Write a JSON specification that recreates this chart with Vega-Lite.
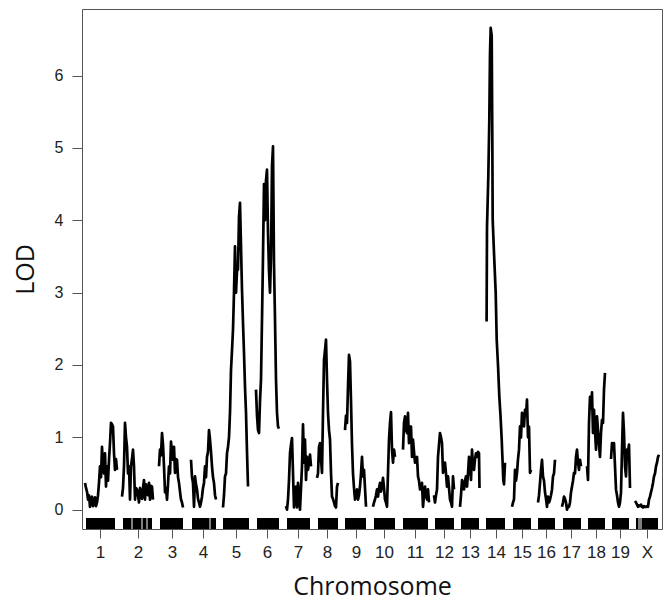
{
"$schema":"https://vega.github.io/schema/vega-lite/v6.json",
"width":580,"height":520,
"autosize":{"type":"none"},
"padding":{"left":82,"top":9,"right":2,"bottom":71},
"background":"white",
"config":{"view":{"stroke":"#555","strokeWidth":1},"font":"Liberation Sans","axis":{"labelOverlap":false}},
"datasets":{
"rug":[
{"chr":"1","start":4,"end":33},
{"chr":"2","start":41,"end":49.5},{"chr":"2","start":50.5,"end":59.5},{"chr":"2","start":60.5,"end":64.5},{"chr":"2","start":65.5,"end":70},
{"chr":"3","start":78,"end":101},
{"chr":"4","start":110,"end":127.5},{"chr":"4","start":128.5,"end":134},
{"chr":"5","start":141,"end":167},
{"chr":"6","start":175,"end":197},
{"chr":"7","start":205,"end":228},
{"chr":"8","start":236,"end":256},
{"chr":"9","start":263,"end":284},
{"chr":"10","start":292,"end":313},
{"chr":"11","start":321,"end":346},
{"chr":"12","start":353,"end":372},
{"chr":"13","start":379,"end":397},
{"chr":"14","start":404,"end":423},
{"chr":"15","start":431,"end":449},
{"chr":"16","start":456,"end":473},
{"chr":"17","start":481,"end":499},
{"chr":"18","start":506,"end":523},
{"chr":"19","start":530,"end":547},
{"chr":"X","start":554,"end":556.5},{"chr":"X","start":557.5,"end":558.5},{"chr":"X","start":559.5,"end":576}
],
"lod":[
{"chr":"1","pos":3,"lod":0.37},{"chr":"1","pos":4,"lod":0.3},{"chr":"1","pos":5,"lod":0.25},{"chr":"1","pos":6,"lod":0.14},{"chr":"1","pos":7,"lod":0.2},{"chr":"1","pos":8,"lod":0.04},{"chr":"1","pos":9,"lod":0.15},{"chr":"1","pos":10,"lod":0.18},{"chr":"1","pos":11,"lod":0.05},{"chr":"1","pos":12,"lod":0.1},{"chr":"1","pos":13,"lod":0.17},{"chr":"1","pos":14,"lod":0.05},{"chr":"1","pos":15,"lod":0.1},{"chr":"1","pos":16,"lod":0.2},{"chr":"1","pos":17,"lod":0.37},{"chr":"1","pos":18,"lod":0.6},{"chr":"1","pos":19,"lod":0.45},{"chr":"1","pos":20,"lod":0.87},{"chr":"1","pos":21,"lod":0.6},{"chr":"1","pos":22,"lod":0.5},{"chr":"1","pos":23,"lod":0.78},{"chr":"1","pos":24,"lod":0.32},{"chr":"1","pos":25,"lod":0.6},{"chr":"1","pos":26,"lod":0.4},{"chr":"1","pos":27,"lod":0.69},{"chr":"1","pos":28,"lod":0.92},{"chr":"1","pos":29,"lod":1.2},{"chr":"1","pos":30,"lod":1.18},{"chr":"1","pos":31,"lod":1.15},{"chr":"1","pos":32,"lod":0.78},{"chr":"1","pos":33,"lod":0.55},{"chr":"1","pos":34,"lod":0.7},{"chr":"1","pos":35,"lod":0.55},
{"chr":"2","pos":40,"lod":0.18},{"chr":"2","pos":41,"lod":0.3},{"chr":"2","pos":42,"lod":0.6},{"chr":"2","pos":43,"lod":1.2},{"chr":"2","pos":44,"lod":1.0},{"chr":"2","pos":45,"lod":0.87},{"chr":"2","pos":46,"lod":0.5},{"chr":"2","pos":47,"lod":0.6},{"chr":"2","pos":48,"lod":0.14},{"chr":"2","pos":49,"lod":0.6},{"chr":"2","pos":50,"lod":0.7},{"chr":"2","pos":51,"lod":0.83},{"chr":"2","pos":52,"lod":0.6},{"chr":"2","pos":53,"lod":0.14},{"chr":"2","pos":54,"lod":0.3},{"chr":"2","pos":55,"lod":0.28},{"chr":"2","pos":56,"lod":0.2},{"chr":"2","pos":57,"lod":0.1},{"chr":"2","pos":58,"lod":0.3},{"chr":"2","pos":59,"lod":0.24},{"chr":"2","pos":60,"lod":0.15},{"chr":"2","pos":61,"lod":0.3},{"chr":"2","pos":62,"lod":0.41},{"chr":"2","pos":63,"lod":0.14},{"chr":"2","pos":64,"lod":0.35},{"chr":"2","pos":65,"lod":0.28},{"chr":"2","pos":66,"lod":0.2},{"chr":"2","pos":67,"lod":0.37},{"chr":"2","pos":68,"lod":0.14},{"chr":"2","pos":69,"lod":0.33},{"chr":"2","pos":70,"lod":0.32},{"chr":"2","pos":71,"lod":0.14},
{"chr":"3","pos":77,"lod":0.6},{"chr":"3","pos":78,"lod":0.83},{"chr":"3","pos":79,"lod":0.75},{"chr":"3","pos":80,"lod":1.06},{"chr":"3","pos":81,"lod":0.9},{"chr":"3","pos":82,"lod":0.6},{"chr":"3","pos":83,"lod":0.24},{"chr":"3","pos":84,"lod":0.3},{"chr":"3","pos":85,"lod":0.14},{"chr":"3","pos":86,"lod":0.35},{"chr":"3","pos":87,"lod":0.6},{"chr":"3","pos":88,"lod":0.5},{"chr":"3","pos":89,"lod":0.94},{"chr":"3","pos":90,"lod":0.8},{"chr":"3","pos":91,"lod":0.69},{"chr":"3","pos":92,"lod":0.87},{"chr":"3","pos":93,"lod":0.51},{"chr":"3","pos":94,"lod":0.7},{"chr":"3","pos":95,"lod":0.69},{"chr":"3","pos":96,"lod":0.45},{"chr":"3","pos":97,"lod":0.37},{"chr":"3","pos":98,"lod":0.25},{"chr":"3","pos":99,"lod":0.14},{"chr":"3","pos":100,"lod":0.1},{"chr":"3","pos":101,"lod":0.03},
{"chr":"4","pos":109,"lod":0.69},{"chr":"4","pos":110,"lod":0.45},{"chr":"4","pos":111,"lod":0.37},{"chr":"4","pos":112,"lod":0.04},{"chr":"4","pos":113,"lod":0.46},{"chr":"4","pos":114,"lod":0.35},{"chr":"4","pos":115,"lod":0.28},{"chr":"4","pos":116,"lod":0.15},{"chr":"4","pos":117,"lod":0.1},{"chr":"4","pos":118,"lod":0.04},{"chr":"4","pos":119,"lod":0.1},{"chr":"4","pos":120,"lod":0.18},{"chr":"4","pos":121,"lod":0.3},{"chr":"4","pos":122,"lod":0.37},{"chr":"4","pos":123,"lod":0.6},{"chr":"4","pos":124,"lod":0.45},{"chr":"4","pos":125,"lod":0.73},{"chr":"4","pos":126,"lod":0.8},{"chr":"4","pos":127,"lod":1.1},{"chr":"4","pos":128,"lod":0.97},{"chr":"4","pos":129,"lod":0.8},{"chr":"4","pos":130,"lod":0.6},{"chr":"4","pos":131,"lod":0.45},{"chr":"4","pos":132,"lod":0.37},{"chr":"4","pos":133,"lod":0.2},{"chr":"4","pos":134,"lod":0.14},
{"chr":"5","pos":141,"lod":0.03},{"chr":"5","pos":142,"lod":0.2},{"chr":"5","pos":143,"lod":0.46},{"chr":"5","pos":144,"lod":0.5},{"chr":"5","pos":145,"lod":0.78},{"chr":"5","pos":146,"lod":0.87},{"chr":"5","pos":147,"lod":1.0},{"chr":"5","pos":148,"lod":1.34},{"chr":"5","pos":149,"lod":1.93},{"chr":"5","pos":150,"lod":2.2},{"chr":"5","pos":151,"lod":2.49},{"chr":"5","pos":152,"lod":3.0},{"chr":"5","pos":153,"lod":3.64},{"chr":"5","pos":154,"lod":3.0},{"chr":"5","pos":155,"lod":3.3},{"chr":"5","pos":156,"lod":3.32},{"chr":"5","pos":157,"lod":4.05},{"chr":"5","pos":158,"lod":4.24},{"chr":"5","pos":159,"lod":3.64},{"chr":"5","pos":160,"lod":3.04},{"chr":"5","pos":161,"lod":2.58},{"chr":"5","pos":162,"lod":2.17},{"chr":"5","pos":163,"lod":1.7},{"chr":"5","pos":164,"lod":1.34},{"chr":"5","pos":165,"lod":0.8},{"chr":"5","pos":166,"lod":0.32},
{"chr":"6","pos":174,"lod":1.66},{"chr":"6","pos":175,"lod":1.3},{"chr":"6","pos":176,"lod":1.1},{"chr":"6","pos":177,"lod":1.06},{"chr":"6","pos":178,"lod":1.5},{"chr":"6","pos":179,"lod":1.8},{"chr":"6","pos":180,"lod":2.63},{"chr":"6","pos":181,"lod":3.5},{"chr":"6","pos":182,"lod":4.5},{"chr":"6","pos":183,"lod":4.0},{"chr":"6","pos":184,"lod":4.55},{"chr":"6","pos":185,"lod":4.7},{"chr":"6","pos":186,"lod":3.83},{"chr":"6","pos":187,"lod":3.3},{"chr":"6","pos":188,"lod":3.0},{"chr":"6","pos":189,"lod":3.5},{"chr":"6","pos":190,"lod":4.75},{"chr":"6","pos":191,"lod":5.02},{"chr":"6","pos":192,"lod":3.4},{"chr":"6","pos":193,"lod":2.63},{"chr":"6","pos":194,"lod":1.8},{"chr":"6","pos":195,"lod":1.34},{"chr":"6","pos":196,"lod":1.15},{"chr":"6","pos":197,"lod":1.12},
{"chr":"7","pos":204,"lod":0.05},{"chr":"7","pos":205,"lod":0},{"chr":"7","pos":206,"lod":0.14},{"chr":"7","pos":207,"lod":0.41},{"chr":"7","pos":208,"lod":0.78},{"chr":"7","pos":209,"lod":0.9},{"chr":"7","pos":210,"lod":0.99},{"chr":"7","pos":211,"lod":0.51},{"chr":"7","pos":212,"lod":0.03},{"chr":"7","pos":213,"lod":0.2},{"chr":"7","pos":214,"lod":0.32},{"chr":"7","pos":215,"lod":0.03},{"chr":"7","pos":216,"lod":0.37},{"chr":"7","pos":217,"lod":0.2},{"chr":"7","pos":218,"lod":0},{"chr":"7","pos":219,"lod":0.3},{"chr":"7","pos":220,"lod":0.6},{"chr":"7","pos":221,"lod":1.18},{"chr":"7","pos":222,"lod":0.65},{"chr":"7","pos":223,"lod":0.97},{"chr":"7","pos":224,"lod":0.41},{"chr":"7","pos":225,"lod":0.73},{"chr":"7","pos":226,"lod":0.55},{"chr":"7","pos":227,"lod":0.65},{"chr":"7","pos":228,"lod":0.76},{"chr":"7","pos":229,"lod":0.6},
{"chr":"8","pos":235,"lod":0.44},{"chr":"8","pos":236,"lod":0.5},{"chr":"8","pos":237,"lod":0.87},{"chr":"8","pos":238,"lod":0.92},{"chr":"8","pos":239,"lod":0.7},{"chr":"8","pos":240,"lod":0.51},{"chr":"8","pos":241,"lod":1.34},{"chr":"8","pos":242,"lod":2.07},{"chr":"8","pos":243,"lod":2.2},{"chr":"8","pos":244,"lod":2.35},{"chr":"8","pos":245,"lod":1.8},{"chr":"8","pos":246,"lod":1.34},{"chr":"8","pos":247,"lod":1.1},{"chr":"8","pos":248,"lod":0.97},{"chr":"8","pos":249,"lod":0.51},{"chr":"8","pos":250,"lod":0.18},{"chr":"8","pos":251,"lod":0.15},{"chr":"8","pos":252,"lod":0.1},{"chr":"8","pos":253,"lod":0.05},{"chr":"8","pos":254,"lod":0.03},{"chr":"8","pos":255,"lod":0.32},{"chr":"8","pos":256,"lod":0.37},
{"chr":"9","pos":263,"lod":1.1},{"chr":"9","pos":264,"lod":1.3},{"chr":"9","pos":265,"lod":1.2},{"chr":"9","pos":266,"lod":1.7},{"chr":"9","pos":267,"lod":2.14},{"chr":"9","pos":268,"lod":2.05},{"chr":"9","pos":269,"lod":1.5},{"chr":"9","pos":270,"lod":0.9},{"chr":"9","pos":271,"lod":0.5},{"chr":"9","pos":272,"lod":0.3},{"chr":"9","pos":273,"lod":0.14},{"chr":"9","pos":274,"lod":0.2},{"chr":"9","pos":275,"lod":0.28},{"chr":"9","pos":276,"lod":0.14},{"chr":"9","pos":277,"lod":0.2},{"chr":"9","pos":278,"lod":0.32},{"chr":"9","pos":279,"lod":0.5},{"chr":"9","pos":280,"lod":0.73},{"chr":"9","pos":281,"lod":0.46},{"chr":"9","pos":282,"lod":0.55},{"chr":"9","pos":283,"lod":0.3},{"chr":"9","pos":284,"lod":0.04},
{"chr":"10","pos":291,"lod":0.04},{"chr":"10","pos":292,"lod":0.1},{"chr":"10","pos":293,"lod":0.14},{"chr":"10","pos":294,"lod":0.2},{"chr":"10","pos":295,"lod":0.28},{"chr":"10","pos":296,"lod":0.18},{"chr":"10","pos":297,"lod":0.3},{"chr":"10","pos":298,"lod":0.37},{"chr":"10","pos":299,"lod":0.25},{"chr":"10","pos":300,"lod":0.32},{"chr":"10","pos":301,"lod":0.44},{"chr":"10","pos":302,"lod":0.3},{"chr":"10","pos":303,"lod":0.14},{"chr":"10","pos":304,"lod":0.1},{"chr":"10","pos":305,"lod":0.04},{"chr":"10","pos":306,"lod":0.51},{"chr":"10","pos":307,"lod":0.97},{"chr":"10","pos":308,"lod":1.2},{"chr":"10","pos":309,"lod":1.35},{"chr":"10","pos":310,"lod":0.83},{"chr":"10","pos":311,"lod":0.65},{"chr":"10","pos":312,"lod":0.83},{"chr":"10","pos":313,"lod":0.73},
{"chr":"11","pos":321,"lod":0.83},{"chr":"11","pos":322,"lod":1.2},{"chr":"11","pos":323,"lod":1.29},{"chr":"11","pos":324,"lod":1.1},{"chr":"11","pos":325,"lod":1.06},{"chr":"11","pos":326,"lod":1.34},{"chr":"11","pos":327,"lod":0.92},{"chr":"11","pos":328,"lod":1.0},{"chr":"11","pos":329,"lod":1.15},{"chr":"11","pos":330,"lod":0.73},{"chr":"11","pos":331,"lod":0.97},{"chr":"11","pos":332,"lod":0.8},{"chr":"11","pos":333,"lod":0.65},{"chr":"11","pos":334,"lod":0.7},{"chr":"11","pos":335,"lod":0.73},{"chr":"11","pos":336,"lod":0.46},{"chr":"11","pos":337,"lod":0.4},{"chr":"11","pos":338,"lod":0.28},{"chr":"11","pos":339,"lod":0.3},{"chr":"11","pos":340,"lod":0.37},{"chr":"11","pos":341,"lod":0.04},{"chr":"11","pos":342,"lod":0.2},{"chr":"11","pos":343,"lod":0.32},{"chr":"11","pos":344,"lod":0.2},{"chr":"11","pos":345,"lod":0.14},{"chr":"11","pos":346,"lod":0.28},{"chr":"11","pos":347,"lod":0.1},
{"chr":"12","pos":352,"lod":0.2},{"chr":"12","pos":353,"lod":0.1},{"chr":"12","pos":354,"lod":0.2},{"chr":"12","pos":355,"lod":0.28},{"chr":"12","pos":356,"lod":0.73},{"chr":"12","pos":357,"lod":0.9},{"chr":"12","pos":358,"lod":1.06},{"chr":"12","pos":359,"lod":1.0},{"chr":"12","pos":360,"lod":0.92},{"chr":"12","pos":361,"lod":0.51},{"chr":"12","pos":362,"lod":0.6},{"chr":"12","pos":363,"lod":0.65},{"chr":"12","pos":364,"lod":0.5},{"chr":"12","pos":365,"lod":0.32},{"chr":"12","pos":366,"lod":0.46},{"chr":"12","pos":367,"lod":0.3},{"chr":"12","pos":368,"lod":0.14},{"chr":"12","pos":369,"lod":0.1},{"chr":"12","pos":370,"lod":0.04},{"chr":"12","pos":371,"lod":0.46},{"chr":"12","pos":372,"lod":0.28},
{"chr":"13","pos":378,"lod":0.04},{"chr":"13","pos":379,"lod":0.2},{"chr":"13","pos":380,"lod":0.41},{"chr":"13","pos":381,"lod":0.35},{"chr":"13","pos":382,"lod":0.28},{"chr":"13","pos":383,"lod":0.4},{"chr":"13","pos":384,"lod":0.46},{"chr":"13","pos":385,"lod":0.32},{"chr":"13","pos":386,"lod":0.5},{"chr":"13","pos":387,"lod":0.73},{"chr":"13","pos":388,"lod":0.6},{"chr":"13","pos":389,"lod":0.41},{"chr":"13","pos":390,"lod":0.83},{"chr":"13","pos":391,"lod":0.6},{"chr":"13","pos":392,"lod":0.55},{"chr":"13","pos":393,"lod":0.7},{"chr":"13","pos":394,"lod":0.78},{"chr":"13","pos":395,"lod":0.73},{"chr":"13","pos":396,"lod":0.8},{"chr":"13","pos":397,"lod":0.78},{"chr":"13","pos":397.5,"lod":0.3},
{"chr":"14","pos":404.6,"lod":2.6},{"chr":"14","pos":405,"lod":3.9},{"chr":"14","pos":406.3,"lod":4.6},{"chr":"14","pos":407.3,"lod":5.39},{"chr":"14","pos":408,"lod":6.3},{"chr":"14","pos":408.7,"lod":6.66},{"chr":"14","pos":409.7,"lod":6.55},{"chr":"14","pos":410.3,"lod":5.16},{"chr":"14","pos":410.7,"lod":4.0},{"chr":"14","pos":412,"lod":3.55},{"chr":"14","pos":413.7,"lod":3.0},{"chr":"14","pos":414.7,"lod":2.35},{"chr":"14","pos":416,"lod":2.0},{"chr":"14","pos":417.3,"lod":1.57},{"chr":"14","pos":418.5,"lod":1.3},{"chr":"14","pos":419.7,"lod":0.97},{"chr":"14","pos":421.3,"lod":0.41},{"chr":"14","pos":422,"lod":0.35},{"chr":"14","pos":423,"lod":0.65},
{"chr":"15","pos":430,"lod":0.04},{"chr":"15","pos":431,"lod":0.1},{"chr":"15","pos":432,"lod":0.14},{"chr":"15","pos":433,"lod":0.55},{"chr":"15","pos":434,"lod":0.4},{"chr":"15","pos":435,"lod":0.51},{"chr":"15","pos":436,"lod":0.7},{"chr":"15","pos":437,"lod":0.83},{"chr":"15","pos":438,"lod":1.15},{"chr":"15","pos":439,"lod":1.0},{"chr":"15","pos":440,"lod":1.34},{"chr":"15","pos":441,"lod":1.2},{"chr":"15","pos":442,"lod":1.15},{"chr":"15","pos":443,"lod":1.38},{"chr":"15","pos":444,"lod":1.3},{"chr":"15","pos":445,"lod":1.52},{"chr":"15","pos":446,"lod":1.0},{"chr":"15","pos":447,"lod":1.15},{"chr":"15","pos":448,"lod":0.51},{"chr":"15","pos":449,"lod":0.55},
{"chr":"16","pos":456,"lod":0.1},{"chr":"16","pos":457,"lod":0.2},{"chr":"16","pos":458,"lod":0.37},{"chr":"16","pos":459,"lod":0.55},{"chr":"16","pos":460,"lod":0.69},{"chr":"16","pos":461,"lod":0.46},{"chr":"16","pos":462,"lod":0.4},{"chr":"16","pos":463,"lod":0.24},{"chr":"16","pos":464,"lod":0.15},{"chr":"16","pos":465,"lod":0.04},{"chr":"16","pos":466,"lod":0.18},{"chr":"16","pos":467,"lod":0.1},{"chr":"16","pos":468,"lod":0.14},{"chr":"16","pos":469,"lod":0.2},{"chr":"16","pos":470,"lod":0.28},{"chr":"16","pos":471,"lod":0.46},{"chr":"16","pos":472,"lod":0.5},{"chr":"16","pos":473,"lod":0.69},
{"chr":"17","pos":480,"lod":0.04},{"chr":"17","pos":481,"lod":0.1},{"chr":"17","pos":482,"lod":0.18},{"chr":"17","pos":483,"lod":0.15},{"chr":"17","pos":484,"lod":0.1},{"chr":"17","pos":485,"lod":0},{"chr":"17","pos":486,"lod":0.05},{"chr":"17","pos":487,"lod":0.04},{"chr":"17","pos":488,"lod":0.1},{"chr":"17","pos":489,"lod":0.24},{"chr":"17","pos":490,"lod":0.32},{"chr":"17","pos":491,"lod":0.4},{"chr":"17","pos":492,"lod":0.51},{"chr":"17","pos":493,"lod":0.5},{"chr":"17","pos":494,"lod":0.73},{"chr":"17","pos":495,"lod":0.83},{"chr":"17","pos":496,"lod":0.65},{"chr":"17","pos":497,"lod":0.55},{"chr":"17","pos":498,"lod":0.69},{"chr":"17","pos":499,"lod":0.6},
{"chr":"18","pos":505,"lod":0.6},{"chr":"18","pos":506,"lod":0.41},{"chr":"18","pos":507,"lod":1.2},{"chr":"18","pos":508,"lod":1.56},{"chr":"18","pos":509,"lod":1.4},{"chr":"18","pos":510,"lod":1.62},{"chr":"18","pos":511,"lod":1.06},{"chr":"18","pos":512,"lod":1.38},{"chr":"18","pos":513,"lod":1.1},{"chr":"18","pos":514,"lod":0.83},{"chr":"18","pos":515,"lod":1.29},{"chr":"18","pos":516,"lod":1.1},{"chr":"18","pos":517,"lod":0.9},{"chr":"18","pos":518,"lod":0.73},{"chr":"18","pos":519,"lod":1.06},{"chr":"18","pos":520,"lod":1.24},{"chr":"18","pos":521,"lod":1.2},{"chr":"18","pos":522,"lod":1.66},{"chr":"18","pos":523,"lod":1.89},
{"chr":"19","pos":529,"lod":0.7},{"chr":"19","pos":530,"lod":0.92},{"chr":"19","pos":531,"lod":0.83},{"chr":"19","pos":532,"lod":0.92},{"chr":"19","pos":533,"lod":0.6},{"chr":"19","pos":534,"lod":0.28},{"chr":"19","pos":535,"lod":0.2},{"chr":"19","pos":536,"lod":0.1},{"chr":"19","pos":537,"lod":0.04},{"chr":"19","pos":538,"lod":0.1},{"chr":"19","pos":539,"lod":0.24},{"chr":"19","pos":540,"lod":0.83},{"chr":"19","pos":541,"lod":1.34},{"chr":"19","pos":542,"lod":1.06},{"chr":"19","pos":543,"lod":0.6},{"chr":"19","pos":544,"lod":0.46},{"chr":"19","pos":545,"lod":0.83},{"chr":"19","pos":546,"lod":0.8},{"chr":"19","pos":547,"lod":0.9},{"chr":"19","pos":548,"lod":0.3},
{"chr":"X","pos":553,"lod":0.12},{"chr":"X","pos":554,"lod":0.1},{"chr":"X","pos":555,"lod":0.07},{"chr":"X","pos":556,"lod":0.04},{"chr":"X","pos":557,"lod":0.06},{"chr":"X","pos":558,"lod":0.05},{"chr":"X","pos":559,"lod":0.07},{"chr":"X","pos":560,"lod":0.04},{"chr":"X","pos":561,"lod":0.03},{"chr":"X","pos":562,"lod":0.05},{"chr":"X","pos":563,"lod":0.04},{"chr":"X","pos":564,"lod":0.04},{"chr":"X","pos":565,"lod":0.05},{"chr":"X","pos":566,"lod":0.04},{"chr":"X","pos":567,"lod":0.14},{"chr":"X","pos":568,"lod":0.18},{"chr":"X","pos":569,"lod":0.24},{"chr":"X","pos":570,"lod":0.3},{"chr":"X","pos":571,"lod":0.37},{"chr":"X","pos":572,"lod":0.46},{"chr":"X","pos":573,"lod":0.5},{"chr":"X","pos":574,"lod":0.6},{"chr":"X","pos":575,"lod":0.65},{"chr":"X","pos":576,"lod":0.73},{"chr":"X","pos":577,"lod":0.76}
]
},
"layer":[
{"data":{"name":"rug"},
 "mark":{"type":"rect","color":"black"},
 "encoding":{
  "x":{"field":"start","type":"quantitative","title":"Chromosome",
   "scale":{"domain":[0,580],"nice":false,"zero":false},
   "axis":{"values":[18,56,90,121,154,185,216,245,274,302,333,362,388,414,440,464,489,514,538,565],"tickCount":40,
    "labelExpr":"{'18':'1','56':'2','90':'3','121':'4','154':'5','185':'6','216':'7','245':'8','274':'9','302':'10','333':'11','362':'12','388':'13','414':'14','440':'15','464':'16','489':'17','514':'18','538':'19','565':'X'}[datum.value]",
    "domain":false,"grid":false,"tickSize":9,"tickColor":"#555","labelPadding":6,"labelFontSize":17,"labelColor":"#222","labelFont":"Liberation Sans","labelFlush":false,"labelOverlap":false,"labelBound":false,
    "titleFont":"Open Sans","titleFontSize":25,"titleFontWeight":"normal","titleColor":"#111","titleBaseline":"alphabetic","titleY":65,"titleX":290}},
  "x2":{"field":"end"},
  "y":{"datum":-0.115,"type":"quantitative","title":"LOD",
   "scale":{"domain":[-0.267,6.92],"nice":false,"zero":false},
   "axis":{"values":[0,1,2,3,4,5,6],"tickCount":10,"format":"d","domain":false,"grid":false,"tickSize":10,"tickColor":"#555","labelPadding":9,"labelFontSize":16,"labelColor":"#222","labelFont":"Liberation Sans","labelFlush":false,
    "titleFont":"Open Sans","titleFontSize":25,"titleFontWeight":"normal","titleColor":"#111","titleAngle":-90,"titleBaseline":"alphabetic","titleX":-49,"titleY":260,"titleAlign":"center"}},
  "y2":{"datum":-0.267}
 }},
{"data":{"name":"lod"},
 "mark":{"type":"line","color":"black","strokeWidth":2.7,"strokeJoin":"round","clip":true},
 "encoding":{
  "x":{"field":"pos","type":"quantitative","title":"Chromosome"},
  "y":{"field":"lod","type":"quantitative","title":"LOD"},
  "detail":{"field":"chr"}
 }},
{"mark":{"type":"rule","color":"#777","strokeDash":[2,3],"strokeWidth":1},
 "encoding":{"y":{"datum":4,"type":"quantitative"}}}
]
}
